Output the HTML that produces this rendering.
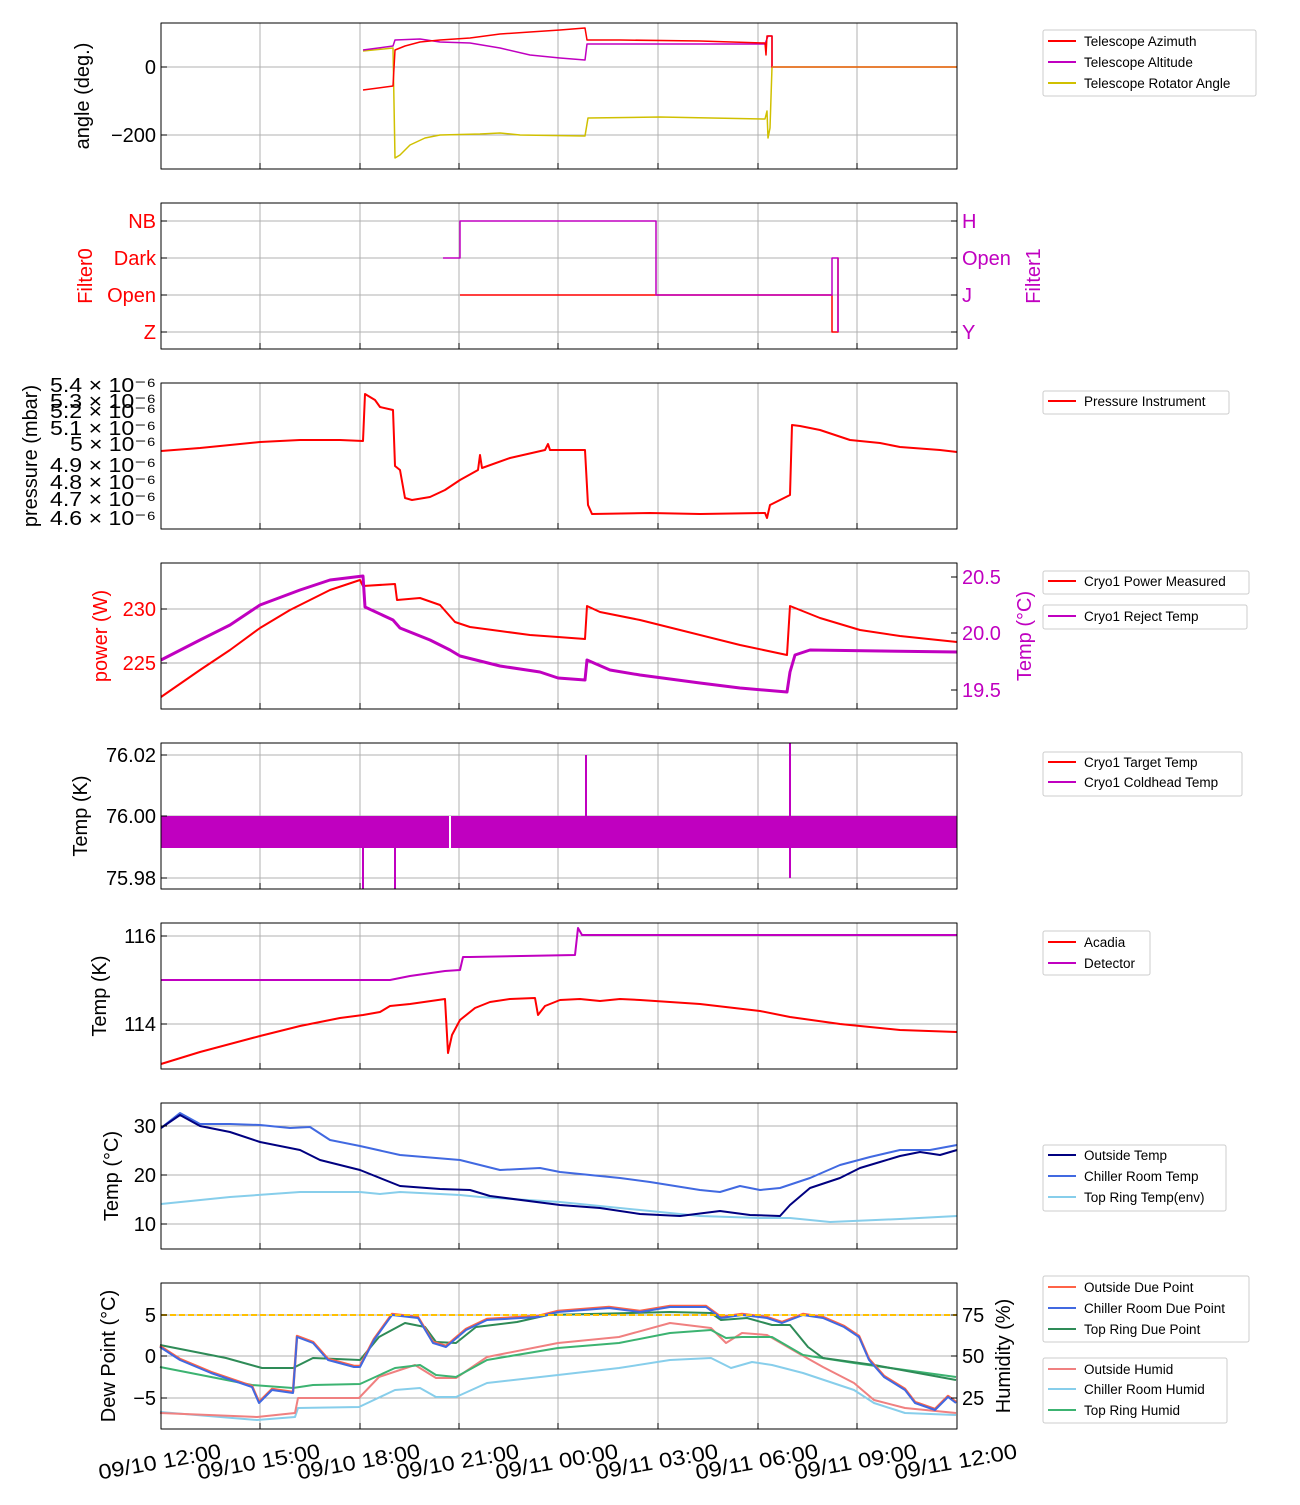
<!DOCTYPE html><html><head><style>body{margin:0;background:#fff}</style></head><body>
<svg width="1300" height="1500" xmlns="http://www.w3.org/2000/svg" font-family="Liberation Sans, DejaVu Sans, sans-serif">
<rect width="1300" height="1500" fill="#fff"/>
<defs>
<g id="vg" stroke="#b0b0b0" stroke-width="1">
<line x1="260" y1="0" x2="260" y2="146"/><line x1="360" y1="0" x2="360" y2="146"/><line x1="459" y1="0" x2="459" y2="146"/><line x1="558" y1="0" x2="558" y2="146"/><line x1="658" y1="0" x2="658" y2="146"/><line x1="758" y1="0" x2="758" y2="146"/><line x1="857" y1="0" x2="857" y2="146"/>
</g>
<g id="xt" stroke="#000" stroke-width="1">
<line x1="260" y1="140" x2="260" y2="146"/><line x1="360" y1="140" x2="360" y2="146"/><line x1="459" y1="140" x2="459" y2="146"/><line x1="558" y1="140" x2="558" y2="146"/><line x1="658" y1="140" x2="658" y2="146"/><line x1="758" y1="140" x2="758" y2="146"/><line x1="857" y1="140" x2="857" y2="146"/>
</g>
</defs>
<g fill="none" stroke-linejoin="round">
<!-- Panel 1 -->
<g transform="translate(0,23)"><use href="#vg"/><use href="#xt"/></g>
<line x1="161" y1="67" x2="957" y2="67" stroke="#b0b0b0"/><line x1="161" y1="135" x2="957" y2="135" stroke="#b0b0b0"/>
<polyline stroke="#d0c000" stroke-width="1.5" points="363,51 393,48 395,158 400,155 410,145 425,138 440,135 480,134 500,133 520,135 585,136 588,118 660,117 765,119 767,111 768,138 770,128 772,67"/>
<polyline stroke="#c000c0" stroke-width="1.5" points="363,50 393,46 395,40 420,39 440,42 470,43 500,48 530,55 560,58 585,60 587,44 600,44 700,44 765,44 768,36 772,36 772,67"/>
<polyline stroke="red" stroke-width="1.5" points="363,90 393,86 395,50 405,46 420,42 440,40 470,38 500,34 530,32 560,30 585,28 587,40 620,40 700,41 765,43 766,55 767,36 772,36 772,67 957,67"/>
<line x1="772" y1="67" x2="957" y2="67" stroke="#e08020" stroke-width="1.5"/>
<rect x="161" y="23" width="796" height="146" stroke="#000"/>
<!-- Panel 2 -->
<g transform="translate(0,203)"><use href="#vg"/><use href="#xt"/></g>
<line x1="161" y1="221" x2="957" y2="221" stroke="#b0b0b0"/><line x1="161" y1="258" x2="957" y2="258" stroke="#b0b0b0"/><line x1="161" y1="295" x2="957" y2="295" stroke="#b0b0b0"/><line x1="161" y1="332" x2="957" y2="332" stroke="#b0b0b0"/>
<polyline stroke="red" stroke-width="1.5" points="460,295 832,295 832,332 838,332 838,258 838,332"/>
<polyline stroke="#c000c0" stroke-width="1.5" points="443,258 460,258 460,221 656,221 656,295 832,295 832,258 838,258 838,332"/>
<rect x="161" y="203" width="796" height="146" stroke="#000"/>
<!-- Panel 3 -->
<g transform="translate(0,383)"><use href="#vg"/><use href="#xt"/></g>
<polyline stroke="red" stroke-width="2" points="161,451 200,448 260,442 300,440 340,440 363,441 365,394 375,400 380,407 393,410 395,466 400,470 405,498 412,500 430,497 445,490 460,480 478,470 480,455 482,468 510,458 545,450 548,444 550,450 585,450 588,505 592,514 650,513 700,514 765,513 767,518 770,505 790,495 792,425 800,426 820,430 850,440 880,443 900,447 940,450 957,452"/>
<rect x="161" y="383" width="796" height="146" stroke="#000"/>
<!-- Panel 4 -->
<g transform="translate(0,563)"><use href="#vg"/><use href="#xt"/></g>
<line x1="161" y1="609" x2="957" y2="609" stroke="#b0b0b0"/><line x1="161" y1="663" x2="957" y2="663" stroke="#b0b0b0"/>
<polyline stroke="red" stroke-width="2" points="161,697 200,670 230,650 260,628 290,610 330,590 360,580 363,586 395,584 397,600 420,598 440,605 455,622 470,627 500,631 530,635 558,637 585,639 587,606 600,612 640,620 680,630 740,645 787,655 790,606 820,618 860,630 900,636 957,642"/>
<polyline stroke="#c000c0" stroke-width="3" points="161,660 200,640 230,625 260,605 300,590 330,580 363,576 365,607 393,620 400,628 430,640 450,650 460,656 500,666 540,672 558,678 585,680 587,660 610,670 640,675 700,683 740,688 787,692 790,672 795,655 810,650 957,652"/>
<rect x="161" y="563" width="796" height="146" stroke="#000"/>
<!-- Panel 5 -->
<g transform="translate(0,743)"><use href="#vg"/><use href="#xt"/></g>
<line x1="161" y1="755" x2="957" y2="755" stroke="#b0b0b0"/><line x1="161" y1="816" x2="957" y2="816" stroke="#b0b0b0"/><line x1="161" y1="878" x2="957" y2="878" stroke="#b0b0b0"/>
<rect x="161" y="816" width="796" height="32" fill="#c000c0" stroke="none"/>
<line x1="450" y1="816" x2="450" y2="848" stroke="#fff" stroke-width="2"/>
<g stroke="#c000c0" stroke-width="2"><line x1="363" y1="816" x2="363" y2="889"/><line x1="395" y1="816" x2="395" y2="889"/><line x1="586" y1="755" x2="586" y2="816"/><line x1="790" y1="743" x2="790" y2="878"/></g>
<rect x="161" y="743" width="796" height="146" stroke="#000"/>
<!-- Panel 6 -->
<g transform="translate(0,923)"><use href="#vg"/><use href="#xt"/></g>
<line x1="161" y1="936" x2="957" y2="936" stroke="#b0b0b0"/><line x1="161" y1="1024" x2="957" y2="1024" stroke="#b0b0b0"/>
<polyline stroke="#c000c0" stroke-width="2" points="161,980 390,980 410,976 445,971 460,970 463,957 470,957 575,955 578,928 582,935 957,935"/>
<polyline stroke="red" stroke-width="2" points="161,1064 200,1052 260,1036 300,1026 340,1018 363,1015 380,1012 390,1006 410,1004 445,999 448,1053 452,1035 460,1020 475,1008 490,1002 510,999 535,998 538,1015 545,1006 560,1000 580,999 600,1001 620,999 640,1000 700,1004 760,1011 790,1017 840,1024 900,1030 957,1032"/>
<rect x="161" y="923" width="796" height="146" stroke="#000"/>
<!-- Panel 7 -->
<g transform="translate(0,1103)"><use href="#vg"/><use href="#xt"/></g>
<line x1="161" y1="1126" x2="957" y2="1126" stroke="#b0b0b0"/><line x1="161" y1="1175" x2="957" y2="1175" stroke="#b0b0b0"/><line x1="161" y1="1224" x2="957" y2="1224" stroke="#b0b0b0"/>
<polyline stroke="#87ceeb" stroke-width="2" points="161,1204 230,1197 300,1192 360,1192 380,1194 400,1192 460,1195 480,1197 560,1202 640,1210 700,1216 760,1218 790,1218 830,1222 900,1219 957,1216"/>
<polyline stroke="#4169e1" stroke-width="2" points="161,1128 180,1113 200,1124 230,1124 260,1125 290,1128 310,1127 330,1140 360,1146 400,1155 460,1160 500,1170 540,1168 560,1172 620,1178 650,1182 700,1190 720,1192 740,1186 760,1190 780,1188 810,1178 840,1165 870,1157 900,1150 930,1150 957,1145"/>
<polyline stroke="#000080" stroke-width="2" points="161,1128 180,1115 200,1126 230,1132 260,1142 300,1150 320,1160 360,1170 400,1186 440,1189 470,1190 490,1196 560,1205 600,1208 640,1214 680,1216 720,1211 750,1215 780,1216 790,1205 810,1188 840,1178 860,1168 880,1162 900,1156 920,1152 940,1155 957,1150"/>
<rect x="161" y="1103" width="796" height="146" stroke="#000"/>
<!-- Panel 8 -->
<g transform="translate(0,1283)"><use href="#vg"/><use href="#xt"/></g>
<line x1="161" y1="1315" x2="957" y2="1315" stroke="#b0b0b0"/><line x1="161" y1="1356" x2="957" y2="1356" stroke="#b0b0b0"/><line x1="161" y1="1398" x2="957" y2="1398" stroke="#b0b0b0"/>
<polyline stroke="#87ceeb" stroke-width="2" points="160,1412 257,1420 295,1417 298,1408 359,1407 395,1390 420,1388 436,1397 456,1397 487,1383 558,1375 619,1368 670,1360 711,1358 731,1368 752,1362 772,1365 803,1373 854,1390 874,1403 905,1413 956,1415"/>
<polyline stroke="#f08080" stroke-width="2" points="160,1413 257,1417 295,1413 298,1398 359,1398 379,1377 415,1365 436,1378 456,1378 487,1357 558,1343 619,1337 670,1323 711,1328 726,1343 742,1333 767,1335 798,1353 823,1367 854,1383 874,1400 905,1408 956,1413"/>
<polyline stroke="#3cb371" stroke-width="2" points="160,1367 252,1385 293,1388 313,1385 360,1384 395,1368 420,1365 436,1375 456,1377 487,1360 558,1348 619,1343 670,1333 711,1330 726,1338 742,1337 772,1337 803,1355 854,1363 956,1377"/>
<polyline stroke="#2e8b57" stroke-width="2" points="160,1345 226,1358 262,1368 293,1368 313,1358 360,1360 379,1337 405,1323 425,1327 436,1342 456,1343 476,1327 517,1322 548,1315 670,1312 711,1313 721,1320 747,1318 772,1325 790,1325 808,1347 823,1358 874,1365 956,1380"/>
<polyline stroke="#ff6347" stroke-width="2.5" points="160,1346 180,1359 211,1372 252,1386 259,1402 272,1389 293,1392 297,1336 313,1342 328,1359 354,1366 360,1366 374,1339 392,1314 418,1317 433,1342 446,1346 466,1329 487,1319 538,1316 558,1311 609,1307 640,1311 670,1306 706,1306 721,1317 742,1314 767,1317 782,1322 803,1314 823,1317 844,1326 859,1336 869,1359 884,1376 905,1389 915,1402 935,1409 948,1396 956,1402"/>
<polyline stroke="#4169e1" stroke-width="2" points="160,1347 180,1360 211,1373 252,1387 259,1403 272,1390 293,1393 297,1337 313,1343 328,1360 354,1367 360,1367 374,1340 392,1315 418,1318 433,1343 446,1347 466,1330 487,1320 538,1317 558,1312 609,1308 640,1312 670,1307 706,1307 721,1318 742,1315 767,1318 782,1323 803,1315 823,1318 844,1327 859,1337 869,1360 884,1377 905,1390 915,1403 935,1410 948,1397 956,1403"/>
<line x1="161" y1="1315" x2="957" y2="1315" stroke="#ffc000" stroke-width="2" stroke-dasharray="6,3"/>
<rect x="161" y="1283" width="796" height="146" stroke="#000"/>
</g>
<!-- Y ticks -->
<g stroke="#000">
<line x1="161" y1="67" x2="167" y2="67"/><line x1="161" y1="135" x2="167" y2="135"/>
<line x1="161" y1="221" x2="167" y2="221"/><line x1="161" y1="258" x2="167" y2="258"/><line x1="161" y1="295" x2="167" y2="295"/><line x1="161" y1="332" x2="167" y2="332"/>
<line x1="951" y1="221" x2="957" y2="221"/><line x1="951" y1="258" x2="957" y2="258"/><line x1="951" y1="295" x2="957" y2="295"/><line x1="951" y1="332" x2="957" y2="332"/>
<line x1="161" y1="609" x2="167" y2="609"/><line x1="161" y1="663" x2="167" y2="663"/>
<line x1="951" y1="577" x2="957" y2="577"/><line x1="951" y1="633" x2="957" y2="633"/><line x1="951" y1="690" x2="957" y2="690"/>
<line x1="161" y1="755" x2="167" y2="755"/><line x1="161" y1="816" x2="167" y2="816"/><line x1="161" y1="878" x2="167" y2="878"/>
<line x1="161" y1="936" x2="167" y2="936"/><line x1="161" y1="1024" x2="167" y2="1024"/>
<line x1="161" y1="1126" x2="167" y2="1126"/><line x1="161" y1="1175" x2="167" y2="1175"/><line x1="161" y1="1224" x2="167" y2="1224"/>
<line x1="161" y1="1315" x2="167" y2="1315"/><line x1="161" y1="1356" x2="167" y2="1356"/><line x1="161" y1="1398" x2="167" y2="1398"/>
<line x1="951" y1="1315" x2="957" y2="1315"/><line x1="951" y1="1356" x2="957" y2="1356"/><line x1="951" y1="1398" x2="957" y2="1398"/>
</g>
<!-- Tick labels -->
<g font-size="20" text-anchor="end" fill="#000">
<text x="156" y="74">0</text><text x="156" y="142">−200</text>
<g fill="red"><text x="156" y="228">NB</text><text x="156" y="265">Dark</text><text x="156" y="302">Open</text><text x="156" y="339">Z</text></g>
<g font-size="20" text-anchor="start" lengthAdjust="spacingAndGlyphs"><text x="50" y="392" textLength="106" lengthAdjust="spacingAndGlyphs">5.4 × 10⁻⁶</text><text x="50" y="408" textLength="106" lengthAdjust="spacingAndGlyphs">5.3 × 10⁻⁶</text><text x="50" y="418" textLength="106" lengthAdjust="spacingAndGlyphs">5.2 × 10⁻⁶</text><text x="50" y="435" textLength="106" lengthAdjust="spacingAndGlyphs">5.1 × 10⁻⁶</text><text x="70" y="451" textLength="86" lengthAdjust="spacingAndGlyphs">5 × 10⁻⁶</text><text x="50" y="472" textLength="106" lengthAdjust="spacingAndGlyphs">4.9 × 10⁻⁶</text><text x="50" y="489" textLength="106" lengthAdjust="spacingAndGlyphs">4.8 × 10⁻⁶</text><text x="50" y="506" textLength="106" lengthAdjust="spacingAndGlyphs">4.7 × 10⁻⁶</text><text x="50" y="525" textLength="106" lengthAdjust="spacingAndGlyphs">4.6 × 10⁻⁶</text></g>
<g fill="red"><text x="156" y="616">230</text><text x="156" y="670">225</text></g>
<text x="156" y="762">76.02</text><text x="156" y="823">76.00</text><text x="156" y="885">75.98</text>
<text x="156" y="943">116</text><text x="156" y="1031">114</text>
<text x="156" y="1133">30</text><text x="156" y="1182">20</text><text x="156" y="1231">10</text>
<text x="156" y="1322">5</text><text x="156" y="1363">0</text><text x="156" y="1405">−5</text>
</g>
<g font-size="20" fill="#000">
<g fill="#c000c0"><text x="962" y="228">H</text><text x="962" y="265">Open</text><text x="962" y="302">J</text><text x="962" y="339">Y</text>
<text x="962" y="584">20.5</text><text x="962" y="640">20.0</text><text x="962" y="697">19.5</text></g>
<text x="962" y="1322">75</text><text x="962" y="1363">50</text><text x="962" y="1405">25</text>
</g>
<!-- axis titles -->
<g font-size="20" text-anchor="middle" fill="#000">
<text transform="translate(89,96) rotate(-90)">angle (deg.)</text>
<text transform="translate(92,276) rotate(-90)" fill="red">Filter0</text>
<text transform="translate(1040,276) rotate(-90)" fill="#c000c0">Filter1</text>
<text transform="translate(37,456) rotate(-90)">pressure (mbar)</text>
<text transform="translate(107,636) rotate(-90)" fill="red">power (W)</text>
<text transform="translate(1031,636) rotate(-90)" fill="#c000c0">Temp (°C)</text>
<text transform="translate(87,816) rotate(-90)">Temp (K)</text>
<text transform="translate(106,996) rotate(-90)">Temp (K)</text>
<text transform="translate(118,1176) rotate(-90)">Temp (°C)</text>
<text transform="translate(115,1356) rotate(-90)">Dew Point (°C)</text>
<text transform="translate(1010,1356) rotate(-90)">Humidity (%)</text>
</g>
<!-- x labels -->
<g font-size="21" text-anchor="end" fill="#000">
<text transform="translate(222,1458) rotate(-10)" textLength="124" lengthAdjust="spacingAndGlyphs">09/10 12:00</text>
<text transform="translate(321,1458) rotate(-10)" textLength="124" lengthAdjust="spacingAndGlyphs">09/10 15:00</text>
<text transform="translate(421,1458) rotate(-10)" textLength="124" lengthAdjust="spacingAndGlyphs">09/10 18:00</text>
<text transform="translate(520,1458) rotate(-10)" textLength="124" lengthAdjust="spacingAndGlyphs">09/10 21:00</text>
<text transform="translate(619,1458) rotate(-10)" textLength="124" lengthAdjust="spacingAndGlyphs">09/11 00:00</text>
<text transform="translate(719,1458) rotate(-10)" textLength="124" lengthAdjust="spacingAndGlyphs">09/11 03:00</text>
<text transform="translate(819,1458) rotate(-10)" textLength="124" lengthAdjust="spacingAndGlyphs">09/11 06:00</text>
<text transform="translate(918,1458) rotate(-10)" textLength="124" lengthAdjust="spacingAndGlyphs">09/11 09:00</text>
<text transform="translate(1018,1458) rotate(-10)" textLength="124" lengthAdjust="spacingAndGlyphs">09/11 12:00</text>
</g>
<!-- legends -->
<g font-size="13.5" fill="#000">
<g fill="#fff" stroke="#ccc"><rect x="1043" y="30" width="213" height="66" rx="2"/><rect x="1043" y="391" width="186" height="23" rx="2"/><rect x="1043" y="571" width="206" height="23" rx="2"/><rect x="1043" y="605" width="204" height="24" rx="2"/><rect x="1043" y="752" width="199" height="44" rx="2"/><rect x="1043" y="931" width="107" height="44" rx="2"/><rect x="1043" y="1145" width="183" height="66" rx="2"/><rect x="1043" y="1276" width="206" height="66" rx="2"/><rect x="1043" y="1358" width="184" height="65" rx="2"/></g>
<g stroke-width="2">
<line x1="1048" y1="41" x2="1076" y2="41" stroke="red"/><line x1="1048" y1="62" x2="1076" y2="62" stroke="#c000c0"/><line x1="1048" y1="83" x2="1076" y2="83" stroke="#d0c000"/>
<line x1="1048" y1="401" x2="1076" y2="401" stroke="red"/>
<line x1="1048" y1="581" x2="1076" y2="581" stroke="red"/><line x1="1048" y1="616" x2="1076" y2="616" stroke="#c000c0"/>
<line x1="1048" y1="762" x2="1076" y2="762" stroke="red"/><line x1="1048" y1="782" x2="1076" y2="782" stroke="#c000c0"/>
<line x1="1048" y1="942" x2="1076" y2="942" stroke="red"/><line x1="1048" y1="963" x2="1076" y2="963" stroke="#c000c0"/>
<line x1="1048" y1="1155" x2="1076" y2="1155" stroke="#000080"/><line x1="1048" y1="1176" x2="1076" y2="1176" stroke="#4169e1"/><line x1="1048" y1="1197" x2="1076" y2="1197" stroke="#87ceeb"/>
<line x1="1048" y1="1287" x2="1076" y2="1287" stroke="#ff6347"/><line x1="1048" y1="1308" x2="1076" y2="1308" stroke="#4169e1"/><line x1="1048" y1="1329" x2="1076" y2="1329" stroke="#2e8b57"/>
<line x1="1048" y1="1369" x2="1076" y2="1369" stroke="#f08080"/><line x1="1048" y1="1389" x2="1076" y2="1389" stroke="#87ceeb"/><line x1="1048" y1="1410" x2="1076" y2="1410" stroke="#3cb371"/>
</g>
<text x="1084" y="46">Telescope Azimuth</text><text x="1084" y="67">Telescope Altitude</text><text x="1084" y="88">Telescope Rotator Angle</text>
<text x="1084" y="406">Pressure Instrument</text>
<text x="1084" y="586">Cryo1 Power Measured</text><text x="1084" y="621">Cryo1 Reject Temp</text>
<text x="1084" y="767">Cryo1 Target Temp</text><text x="1084" y="787">Cryo1 Coldhead Temp</text>
<text x="1084" y="947">Acadia</text><text x="1084" y="968">Detector</text>
<text x="1084" y="1160">Outside Temp</text><text x="1084" y="1181">Chiller Room Temp</text><text x="1084" y="1202">Top Ring Temp(env)</text>
<text x="1084" y="1292">Outside Due Point</text><text x="1084" y="1313">Chiller Room Due Point</text><text x="1084" y="1334">Top Ring Due Point</text>
<text x="1084" y="1374">Outside Humid</text><text x="1084" y="1394">Chiller Room Humid</text><text x="1084" y="1415">Top Ring Humid</text>
</g>
</svg>
</body></html>
